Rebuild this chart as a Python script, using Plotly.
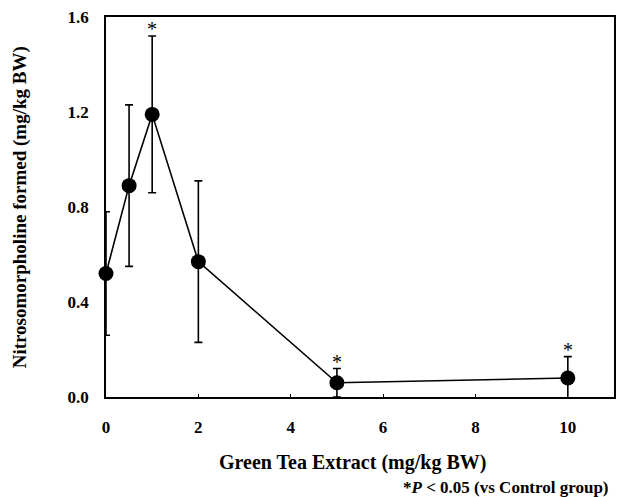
import plotly.graph_objects as go

# Data
dose = [0, 0.5, 1, 2, 5, 10]                    # Green Tea Extract (mg/kg BW)
nmor = [0.52, 0.89, 1.19, 0.57, 0.06, 0.08]     # Nitrosomorpholine formed (mg/kg BW)
err = [0.26, 0.34, 0.33, 0.34, 0.06, 0.09]      # error bar (+/-)
significant = [False, False, True, False, True, True]

x_ticks = [0, 2, 4, 6, 8, 10]
y_ticks = [0.0, 0.4, 0.8, 1.2, 1.6]

FONT = "Liberation Serif"

fig = go.Figure()
fig.add_trace(go.Scatter(
    x=dose, y=nmor, mode="lines+markers",
    line=dict(color="black", width=1.6),
    marker=dict(color="black", size=15),
    error_y=dict(type="data", array=err, color="black", thickness=1.6, width=4),
    cliponaxis=False, showlegend=False,
))

for xv, yv, ev, s in zip(dose, nmor, err, significant):
    if s:
        fig.add_annotation(x=xv, y=yv + ev, text="*", showarrow=False,
                           xanchor="center", yanchor="bottom", yshift=-6,
                           font=dict(family=FONT, size=20, color="black"))

fig.add_annotation(xref="paper", yref="paper", x=-86 / 510, y=0.5,
                   text="Nitrosomorpholine formed (mg/kg BW)", textangle=-90,
                   showarrow=False, xanchor="center", yanchor="middle",
                   font=dict(family=FONT, size=19, color="black", weight="bold"))
fig.add_annotation(xref="paper", yref="paper", x=(353 - 106) / 510, y=-65 / 380,
                   text="Green Tea Extract (mg/kg BW)",
                   showarrow=False, xanchor="center", yanchor="middle",
                   font=dict(family=FONT, size=20, color="black", weight="bold"))
fig.add_annotation(xref="paper", yref="paper", x=(613 - 106) / 510, y=-90 / 380,
                   text="*<i>P</i> &lt; 0.05 (vs Control group)",
                   showarrow=False, xanchor="right", yanchor="middle",
                   font=dict(family=FONT, size=17, color="black", weight="bold"))

fig.update_layout(
    width=619, height=497,
    margin=dict(l=106, r=3, t=17, b=100),
    plot_bgcolor="white", paper_bgcolor="white",
)
fig.update_xaxes(range=[0, 11], tickvals=x_ticks, ticks="inside", ticklen=3,
                 tickcolor="black", showline=True, linecolor="black", linewidth=1.6,
                 mirror=True, showgrid=False, zeroline=False,
                 ticklabelstandoff=14,
                 tickfont=dict(family=FONT, size=17, color="black", weight="bold"))
fig.update_yaxes(range=[0, 1.6], tickvals=y_ticks, tickformat=".1f", ticks="",
                 showline=True, linecolor="black", linewidth=1.6,
                 mirror=True, showgrid=False, zeroline=False,
                 ticklabelstandoff=12,
                 tickfont=dict(family=FONT, size=17, color="black", weight="bold"))

fig.write_html("out.html")
